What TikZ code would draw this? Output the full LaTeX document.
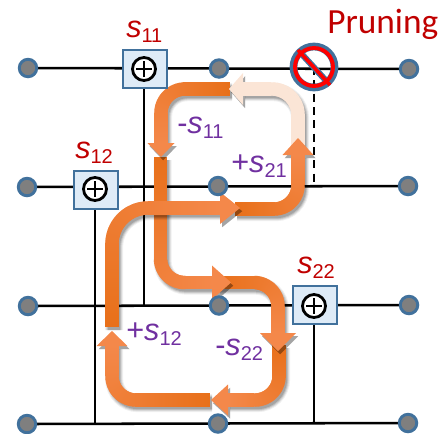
\documentclass[tikz,border=0pt]{standalone}
\usepackage{fontspec}
\setmainfont{Liberation Sans}
\newfontfamily\prunefont{Carlito}
\usetikzlibrary{decorations.markings}
\pgfdeclarelayer{wires}
\pgfdeclarelayer{arrows}
\pgfsetlayers{wires,arrows,main}
\definecolor{redlab}{HTML}{C00000}
\definecolor{purplelab}{HTML}{7030A0}
\definecolor{ringblue}{HTML}{41719C}
\definecolor{dotgray}{HTML}{7F7F7F}
\definecolor{boxfill}{HTML}{DEEBF7}
\definecolor{ordark}{HTML}{E8701A}
\definecolor{orlight}{HTML}{F4884A}
\definecolor{cream}{HTML}{FBE5D6}
\newcommand{\symlabel}[2]{{\fontsize{23}{23}\selectfont #1\itshape s}\raisebox{-4pt}{\fontsize{15}{15}\selectfont #2}}
% path, dark colour, light colour, head half width, head length, corner radius
\newcommand{\farrow}[6]{%
  \foreach \sw/\so in {18/.06,16/.09,14/.12,12/.14}{%
    \begin{scope}[transform canvas={shift={(1.6pt,-2.4pt)}},opacity=\so]
      \draw[black,line width=\sw*.75pt,rounded corners=#6*.75pt] #1;
      \path[rounded corners=#6*.75pt,decoration={markings,mark=at position 1 with {\fill[black,sharp corners] (0,-#4) -- (#5,0) -- (0,#4) -- cycle;}},decorate] #1;
    \end{scope}}%
  \path[rounded corners=#6*.75pt,decoration={markings,
      mark=between positions 0 and 1 step .8pt with {%
        \pgfmathsetmacro{\pct}{100*\pgfkeysvalueof{/pgf/decoration/mark info/distance from start}/\pgfdecoratedpathlength}%
        \fill[color=#3!\pct!#2,sharp corners] (-.05pt,-6.7) -- (1.3pt,-6.7) -- (1.3pt,6.7) -- (-.05pt,6.7) -- cycle;},
      mark=at position 1 with {\fill[#3,sharp corners] (0,-#4) -- (#5,0) -- (0,#4) -- cycle;}},decorate] #1;
}
\tikzset{
  dotnode/.style={circle,draw=ringblue,fill=dotgray,line width=2.2pt,minimum size=17.5*.75pt,inner sep=0pt},
  wire/.style={black,line width=1.9pt},
  boxnode/.style={rectangle,draw=ringblue,fill=boxfill,line width=1.5pt,inner sep=0pt},
  addernode/.style={circle,draw=black,fill=white,line width=2.1pt,minimum size=23*.75pt,inner sep=0pt,
    path picture={\draw[black,line width=1.7pt]
      ([xshift=-6pt]path picture bounding box.center) -- ([xshift=6pt]path picture bounding box.center)
      ([yshift=-6pt]path picture bounding box.center) -- ([yshift=6pt]path picture bounding box.center);}},
  redtext/.style={text=redlab,anchor=base west,inner sep=0pt},
  purpletext/.style={text=purplelab,anchor=base west,inner sep=0pt}
}
\begin{document}
\begin{tikzpicture}[x=.75pt,y=-.75pt]
\useasboundingbox (0,0) rectangle (441,433);
% grid nodes
\node[dotnode] (n11) at (28,68) {};
\node[dotnode] (n12) at (219,68.5) {};
\node[dotnode] (n13) at (409,69) {};
\node[dotnode] (n21) at (27,187) {};
\node[dotnode] (n22) at (218,186) {};
\node[dotnode] (n23) at (408,186) {};
\node[dotnode] (n31) at (28,306) {};
\node[dotnode] (n32) at (219,305.5) {};
\node[dotnode] (n33) at (409,305) {};
\node[dotnode] (n41) at (27,424) {};
\node[dotnode] (n42) at (218,423.5) {};
\node[dotnode] (n43) at (408,423) {};
% switch boxes
\node[boxnode,minimum width=44*.75pt,minimum height=38*.75pt] (b11) at (144.5,69) {};
\node[boxnode,minimum width=44*.75pt,minimum height=38*.75pt] (b12) at (95.5,189.5) {};
\node[boxnode,minimum width=44*.75pt,minimum height=38*.75pt] (b22) at (314.5,304.5) {};
\node[addernode] (a11) at (144,69) {};
\node[addernode] (a12) at (95,189) {};
\node[addernode] (a22) at (314,306) {};
% pruning mark
\node[circle,minimum size=40*.75pt,inner sep=0pt] (prune) at (314,67) {};
\draw[ringblue,line width=5.8pt] (prune.center) circle[radius=20.5];
\draw[ringblue,line width=4.6pt] (298,50) -- (330,85);
\draw[red,line width=2.9pt] (prune.center) circle[radius=19];
\draw[red,line width=2.6pt] (298,50) -- (330,85);
% wires
\begin{pgfonlayer}{wires}
\draw[wire] (n11.center) -- (n13.center);
\draw[wire] (n21.center) -- (n23.center);
\draw[wire] (n31.center) -- (n33.center);
\draw[wire] (n41.center) -- (n43.center);
\draw[wire] (a11.center) -- (a11 |- n31);
\draw[wire] (a12.center) -- (a12 |- n41);
\draw[wire] (a22.center) -- (a22 |- n43);
\draw[wire,dash pattern=on 6pt off 4pt] (prune.center) -- (prune |- n23);
\end{pgfonlayer}
% flow arrows
\coordinate (ca1) at (298,150); \coordinate (ca2) at (243,89);
\coordinate (cb1) at (230,89);  \coordinate (cb2) at (161,143);
\coordinate (cc1) at (160.5,157); \coordinate (cc2) at (212,282.5);
\coordinate (cd1) at (218,282.5); \coordinate (cd2) at (278,333);
\coordinate (ce1) at (279,345); \coordinate (ce2) at (228,400);
\coordinate (cf1) at (210,400); \coordinate (cf2) at (112,346);
\coordinate (cg1) at (112,327); \coordinate (cg2) at (220,208);
\coordinate (ch1) at (235,209); \coordinate (ch2) at (298,155);
\begin{pgfonlayer}{arrows}
\farrow{(cf1) -| (cf2)}{ordark}{orlight}{15.5}{15}{24}
\farrow{(ce1) |- (ce2)}{ordark}{orlight}{15.5}{17}{24}
\farrow{(cd1) -| (cd2)}{ordark}{orlight}{18}{18}{24}
\farrow{(cc1) |- (cc2)}{ordark}{orlight}{17}{19}{24}
\farrow{(cb1) -| (cb2)}{ordark}{orlight}{13.5}{14}{24}
\farrow{(ca1) |- (ca2)}{cream}{cream}{16}{14}{26}
\farrow{(ch1) -| (ch2)}{ordark}{orlight}{15.5}{17}{24}
\farrow{(cg1) |- (cg2)}{ordark}{orlight}{16}{20}{36}
\end{pgfonlayer}
% labels
\node[redtext] (ls11) at (126,37) {\symlabel{}{11}};
\node[redtext] (ls12) at (75,158) {\symlabel{}{12}};
\node[redtext] (ls22) at (297,273) {\symlabel{}{22}};
\node[redtext] (lprune) at (327,33) {\prunefont\fontsize{26.5}{26.5}\selectfont Pruning};
\node[purpletext] (lm11) at (177,133) {\symlabel{-}{11}};
\node[purpletext] (lp21) at (231,172) {\symlabel{+}{21}};
\node[purpletext] (lp12) at (126,340) {\symlabel{+}{12}};
\node[purpletext] (lm22) at (215,355) {\symlabel{-}{22}};
\end{tikzpicture}
\end{document}
